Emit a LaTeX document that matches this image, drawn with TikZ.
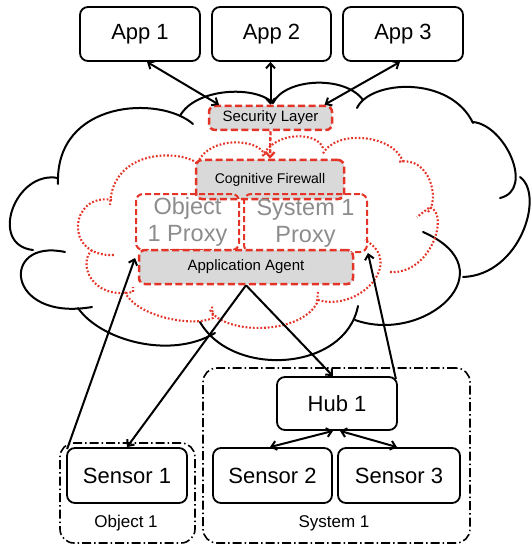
\documentclass[tikz,border=0pt]{standalone}
\usepackage{fontspec}
\setmainfont{Liberation Sans}
\usetikzlibrary{arrows.meta}
\definecolor{cred}{RGB}{228,52,40}
\definecolor{cgray}{RGB}{217,217,217}
\definecolor{ptext}{RGB}{140,140,140}
\begin{document}
\begin{tikzpicture}[x=1pt,y=-1pt,
  cloudline/.style={line width=2pt, line cap=round},
  redcloud/.style={cred, line width=2.1pt, dash pattern=on 1.8pt off 1.9pt},
  appbox/.style={draw, line width=1.8pt, rounded corners=8pt, inner sep=0pt, fill=white, font=\fontsize{22}{26}\selectfont},
  redbox/.style={draw=cred, fill=cgray, line width=2.5pt, dash pattern=on 7pt off 3.5pt, rounded corners=6pt, inner sep=0pt},
  proxybox/.style={draw=cred, line width=2pt, dash pattern=on 6pt off 3pt, rounded corners=7pt, inner sep=0pt, text=ptext, align=center, font=\fontsize{23.5}{27}\selectfont},
  grpbox/.style={draw, line width=1.6pt, dash pattern=on 9pt off 3pt on 1.5pt off 3pt, rounded corners=14pt, inner sep=0pt},
  grplabel/.style={font=\fontsize{17}{20}\selectfont, inner sep=0pt},
  conn/.style={line width=2pt},
  redconn/.style={cred, line width=2.3pt, dash pattern=on 4pt off 2pt},
  >={Straight Barb[length=5pt,width=9pt]}
]
\useasboundingbox (0,0) rectangle (531,548);

% black cloud lobes
\draw[cloudline] (193,124) .. controls (160,95) and (55,100) .. (58,184);
\draw[cloudline] (58,178) .. controls (15,170) and (-12,245) .. (33,250);
\draw[cloudline] (65,252) .. controls (0,238) and (5,322) .. (92,307);
\draw[cloudline] (78,308) .. controls (100,340) and (170,360) .. (215,333);
\draw[cloudline] (200,322) .. controls (232,378) and (345,372) .. (358,306);
\draw[cloudline] (355,320) .. controls (425,345) and (510,270) .. (423,232);
\draw[cloudline] (463,277) .. controls (520,275) and (545,195) .. (520,177);
\draw[cloudline] (473,122) .. controls (505,125) and (535,190) .. (500,198);
\draw[cloudline] (357,108) .. controls (370,80) and (450,75) .. (473,123);
\draw[cloudline] (273,103) .. controls (285,78) and (345,75) .. (363,100);
\draw[cloudline] (180,116) .. controls (195,88) and (255,85) .. (273,103);

% red dotted cloud lobes
\draw[redcloud] (197,163) .. controls (180,150) and (112,148) .. (110,205);
\draw[redcloud] (112,200) .. controls (70,192) and (62,258) .. (115,255);
\draw[redcloud] (92,250) .. controls (78,262) and (90,300) .. (133,292) -- (133,287);
\draw[redcloud] (125,292) .. controls (135,315) and (190,328) .. (213,318) -- (212,306);
\draw[redcloud] (210,310) .. controls (225,335) and (300,335) .. (317,303) -- (318,292);
\draw[redcloud] (318,300) .. controls (360,312) and (405,262) .. (365,240);
\draw[redcloud] (390,272) .. controls (430,275) and (450,215) .. (430,207) -- (417,217);
\draw[redcloud] (428,212) .. controls (440,200) and (430,155) .. (398,162);
\draw[redcloud] (403,162) .. controls (395,135) and (335,128) .. (322,155);
\draw[redcloud] (323,148) .. controls (318,132) and (275,130) .. (262,157);
\draw[redcloud] (265,155) .. controls (258,138) and (210,136) .. (198,162);

% groups
\node[grpbox, minimum width=135pt, minimum height=100pt] (gobj) at (127.5,493) {};
\node[grpbox, minimum width=267pt, minimum height=175pt] (gsys) at (336.5,455.5) {};
\node[grplabel] (lobj) at (126,523) {Object 1};
\node[grplabel] (lsys) at (334,523) {System 1};

% boxes
\node[appbox, minimum width=120pt, minimum height=54pt] (app1) at (140,34) {App 1};
\node[appbox, minimum width=119pt, minimum height=54pt] (app2) at (271.5,34) {App 2};
\node[appbox, minimum width=120pt, minimum height=54pt] (app3) at (403,34) {App 3};

\node[redbox, minimum width=123pt, minimum height=24pt, font=\fontsize{15}{18}\selectfont] (sec) at (270.5,118) {Security Layer};
\node[redbox, minimum width=148pt, minimum height=39pt, font=\fontsize{14}{17}\selectfont] (cog) at (270,179.5) {Cognitive Firewall};
\node[proxybox, minimum width=103pt, minimum height=56pt] (oproxy) at (187.5,222) {Object\\1 Proxy};
\node[proxybox, minimum width=123pt, minimum height=58pt] (sproxy) at (305.5,223) {System 1\\Proxy};
\node[redbox, minimum width=214pt, minimum height=34pt, font=\fontsize{15}{18}\selectfont] (agent) at (246,267) {Application Agent};

\node[appbox, minimum width=120pt, minimum height=53pt] (hub) at (337,403.5) {Hub 1};
\node[appbox, minimum width=120pt, minimum height=55pt] (s1) at (127,475.5) {Sensor 1};
\node[appbox, minimum width=119pt, minimum height=55pt] (s2) at (272.5,475.5) {Sensor 2};
\node[appbox, minimum width=122pt, minimum height=55pt] (s3) at (399,475.5) {Sensor 3};

% connectors
\draw[conn,<->] ([xshift=7pt]app1.south) -- ([xshift=-51.5pt]sec.north);
\draw[conn,<->] ([xshift=-1pt]app2.south) -- (sec.north);
\draw[conn,<->] ([xshift=-3pt]app3.south) -- ([xshift=54pt]sec.north);
\draw[redconn,->] (sec.south) -- (cog.north);
\draw[conn,->] ([shift={(1pt,-2pt)}]s1.north west) -- ([yshift=-7pt]oproxy.south west);
\draw[conn,->] (agent.south) -- (s1.north);
\draw[conn,->] (agent.south) -- ([xshift=-4pt]hub.north);
\draw[conn,->] ([shift={(-2pt,-3pt)}]hub.north east) -- (sproxy.south east);
\draw[conn,<->] ([xshift=-4pt]hub.south) -- ([xshift=-2.5pt]s2.north);
\draw[conn,<->] ([xshift=3pt]hub.south) -- ([xshift=-2pt]s3.north);
\end{tikzpicture}
\end{document}
